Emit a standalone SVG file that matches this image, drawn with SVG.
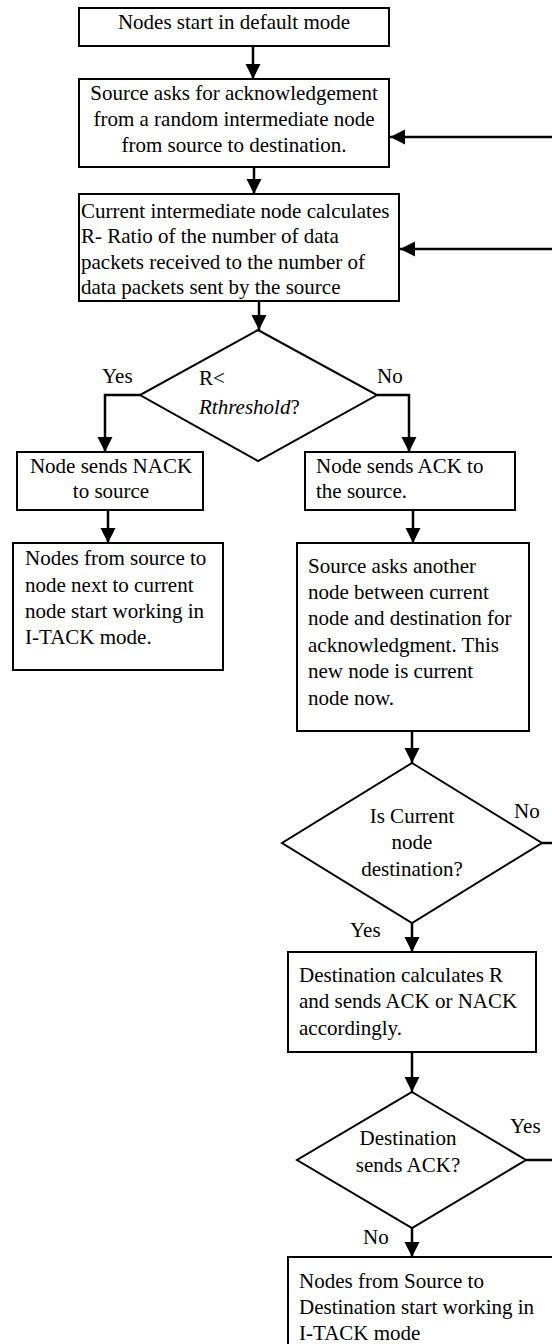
<svg xmlns="http://www.w3.org/2000/svg" width="552" height="1344" viewBox="0 0 552 1344">
<style>
.box{fill:#fff;stroke:#000;stroke-width:2}
.dia{fill:#fff;stroke:#000;stroke-width:2;stroke-linejoin:miter}
.con{fill:none;stroke:#000;stroke-width:2.5}
text{font-family:"Liberation Serif","Times New Roman",serif;font-size:21px;fill:#000}
.c{text-anchor:middle}
</style>
<defs>
<marker id="ah" markerUnits="userSpaceOnUse" markerWidth="16" markerHeight="16" refX="15" refY="7.5" orient="auto">
<path d="M0,0 L15,7.5 L0,15 z" fill="#000"/>
</marker>
</defs>
<rect width="552" height="1344" fill="#fff"/>
<g id="connectors">
<line class="con" x1="253" y1="46" x2="253" y2="79" marker-end="url(#ah)"/>
<line class="con" x1="254" y1="167" x2="254" y2="194" marker-end="url(#ah)"/>
<line class="con" x1="552" y1="137" x2="390" y2="137" marker-end="url(#ah)"/>
<line class="con" x1="552" y1="249" x2="400" y2="249" marker-end="url(#ah)"/>
<line class="con" x1="259" y1="301" x2="259" y2="330" marker-end="url(#ah)"/>
<path class="con" d="M140,395 H105 V452" marker-end="url(#ah)"/>
<path class="con" d="M377,395 H409 V452" marker-end="url(#ah)"/>
<line class="con" x1="108" y1="510" x2="108" y2="543" marker-end="url(#ah)"/>
<line class="con" x1="413" y1="510" x2="413" y2="543" marker-end="url(#ah)"/>
<line class="con" x1="412" y1="731" x2="412" y2="763" marker-end="url(#ah)"/>
<line class="con" x1="542" y1="843" x2="552" y2="843"/>
<line class="con" x1="412" y1="923" x2="412" y2="952" marker-end="url(#ah)"/>
<line class="con" x1="412" y1="1052" x2="412" y2="1092" marker-end="url(#ah)"/>
<line class="con" x1="526" y1="1160" x2="552" y2="1160"/>
<line class="con" x1="412" y1="1228" x2="412" y2="1257" marker-end="url(#ah)"/>
<text x="102" y="383">Yes</text>
<text x="377" y="383">No</text>
<text x="514" y="818">No</text>
<text x="350" y="937">Yes</text>
<text x="510" y="1133">Yes</text>
<text x="363" y="1244">No</text>
</g>
<g id="n1">
<rect class="box" x="79" y="8" width="310" height="38"/>
<text class="c" x="234" y="29">Nodes start in default mode</text>
</g>
<g id="n2">
<rect class="box" x="79" y="79" width="310" height="88"/>
<text class="c" x="234" y="100">Source asks for acknowledgement</text>
<text class="c" x="234" y="126">from a random intermediate node</text>
<text class="c" x="234" y="152">from source to destination.</text>
</g>
<g id="n3">
<rect class="box" x="79" y="194" width="320" height="107"/>
<text x="81" y="218">Current intermediate node calculates</text>
<text x="81" y="243">R- Ratio of the number of data</text>
<text x="81" y="269">packets received to the number of</text>
<text x="81" y="294">data packets sent by the source</text>
</g>
<g id="d1">
<polygon class="dia" points="258,330 377,395 258,461 140,395"/>
<text x="199" y="385">R&lt;</text>
<text x="199" y="414"><tspan font-style="italic">Rthreshold</tspan>?</text>
</g>
<g id="n4">
<rect class="box" x="17" y="452" width="186" height="58"/>
<text class="c" x="111" y="473">Node sends NACK</text>
<text class="c" x="111" y="498">to source</text>
</g>
<g id="n5">
<rect class="box" x="305" y="452" width="210" height="58"/>
<text x="316" y="473">Node sends ACK to</text>
<text x="316" y="498">the source.</text>
</g>
<g id="n6">
<rect class="box" x="13" y="543" width="210" height="127"/>
<text x="25" y="565">Nodes from source to</text>
<text x="25" y="592">node next to current</text>
<text x="25" y="618">node start working in</text>
<text x="25" y="644">I-TACK mode.</text>
</g>
<g id="n7">
<rect class="box" x="297" y="543" width="232" height="188"/>
<text x="308" y="573">Source asks another</text>
<text x="308" y="599">node between current</text>
<text x="308" y="625">node and destination for</text>
<text x="308" y="652">acknowledgment. This</text>
<text x="308" y="678">new node is current</text>
<text x="308" y="705">node now.</text>
</g>
<g id="d2">
<polygon class="dia" points="412,763 542,843 412,923 282,843"/>
<text class="c" x="412" y="823">Is Current</text>
<text class="c" x="412" y="849">node</text>
<text class="c" x="412" y="876">destination?</text>
</g>
<g id="n8">
<rect class="box" x="288" y="952" width="248" height="100"/>
<text x="299" y="982">Destination calculates R</text>
<text x="299" y="1008">and sends ACK or NACK</text>
<text x="299" y="1035">accordingly.</text>
</g>
<g id="d3">
<polygon class="dia" points="412,1092 526,1160 412,1228 297,1160"/>
<text class="c" x="408" y="1145">Destination</text>
<text class="c" x="408" y="1172">sends ACK?</text>
</g>
<g id="n9">
<rect class="box" x="288" y="1257" width="290" height="110"/>
<text x="299" y="1288">Nodes from Source to</text>
<text x="299" y="1314">Destination start working in</text>
<text x="299" y="1340">I-TACK mode</text>
</g>
</svg>
